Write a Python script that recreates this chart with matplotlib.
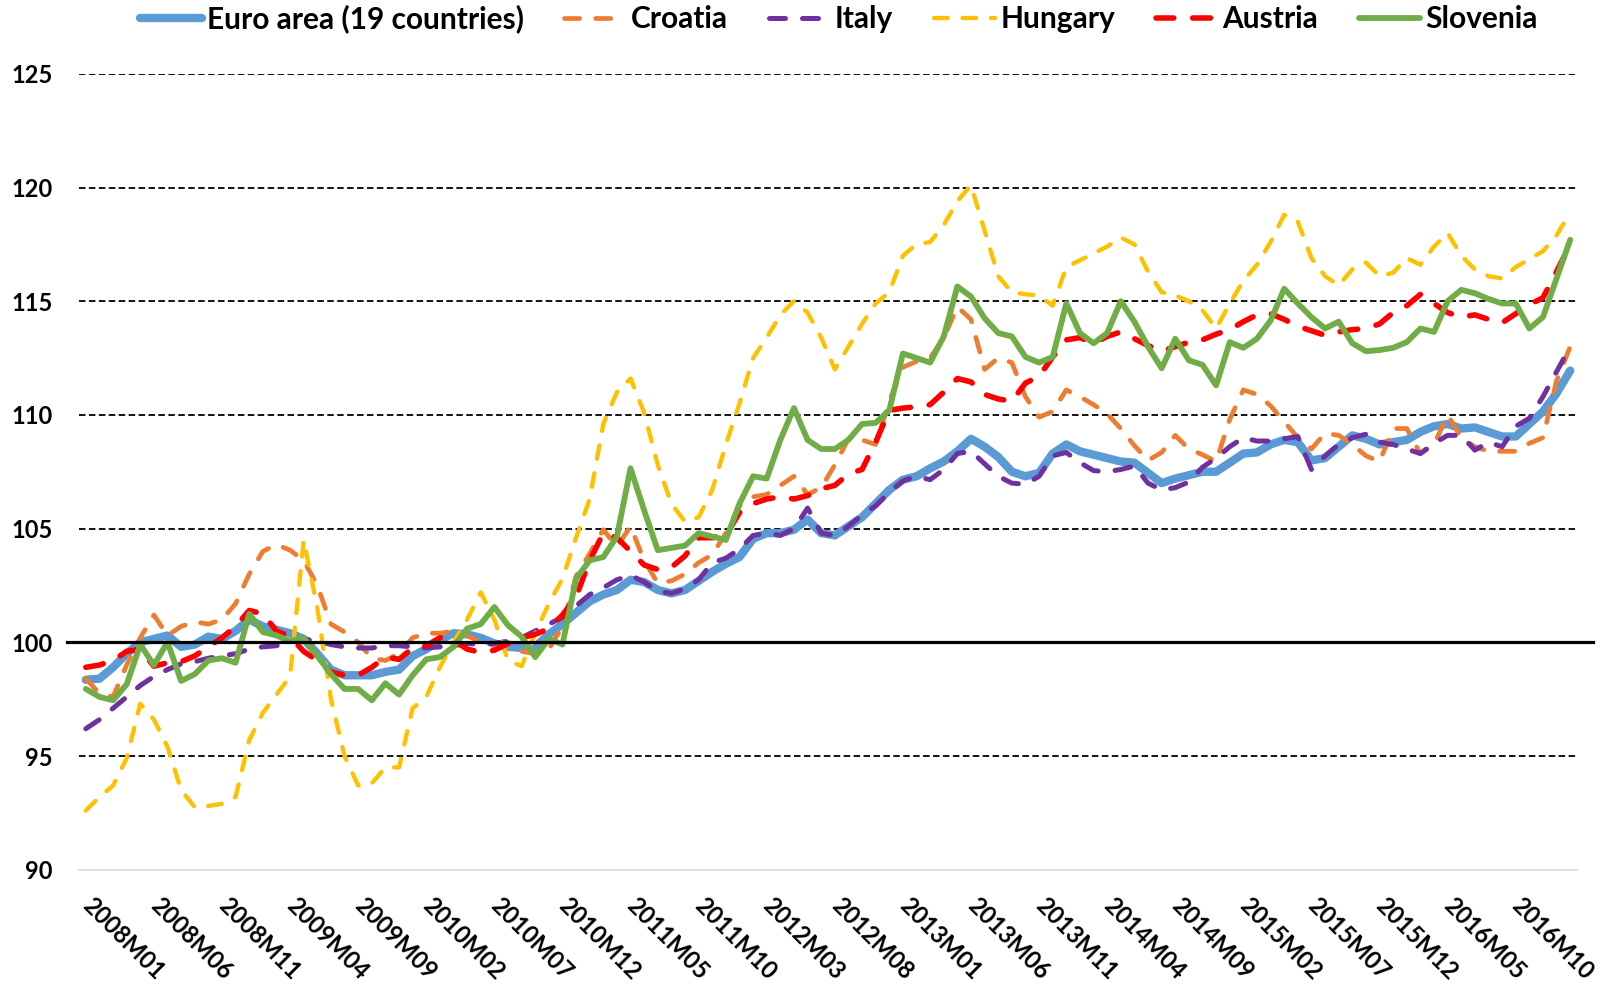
import matplotlib
matplotlib.use('Agg')
import matplotlib.pyplot as plt
import matplotlib.transforms as mtrans
from matplotlib.lines import Line2D

plt.rcParams['font.family'] = ['Lato', 'DejaVu Sans']
plt.rcParams['font.weight'] = 'bold'

months = [f"{2008 + k // 12}M{k % 12 + 1:02d}" for k in range(110)]

euro = [98.35, 98.4, 98.9, 99.5, 100.0, 100.15, 100.3, 99.8, 99.9, 100.25,
        100.15, 100.5, 101.0, 100.7, 100.55, 100.4, 100.15, 99.5, 98.8, 98.55,
        98.55, 98.55, 98.7, 98.8, 99.4, 99.7, 100.1, 100.4, 100.35, 100.2,
        99.95, 99.8, 99.75, 99.8, 100.35, 100.8, 101.3, 101.8, 102.1, 102.3,
        102.75, 102.65, 102.3, 102.15, 102.3, 102.7, 103.1, 103.45, 103.75, 104.55,
        104.8, 104.8, 104.95, 105.4, 104.8, 104.7, 105.1, 105.5, 106.1, 106.7,
        107.15, 107.3, 107.65, 107.95, 108.4, 108.95, 108.6, 108.15, 107.5, 107.3,
        107.45, 108.3, 108.7, 108.4, 108.25, 108.1, 107.95, 107.9, 107.45, 107.0,
        107.2, 107.35, 107.5, 107.5, 107.9, 108.3, 108.35, 108.7, 108.9, 108.8,
        108.0, 108.1, 108.6, 109.1, 108.95, 108.7, 108.8, 108.9, 109.25, 109.5,
        109.6, 109.4, 109.45, 109.25, 109.05, 109.05, 109.6, 110.15, 110.95, 111.95]

croatia = [98.4, 97.75, 97.6, 99.0, 100.2, 101.2, 100.3, 100.7, 100.9, 100.8,
           101.0, 101.7, 103.0, 104.0, 104.3, 104.05, 103.6, 102.5, 100.8, 100.45,
           100.0, 99.3, 99.2, 99.5, 100.2, 100.4, 100.4, 100.5, 100.3, 100.0,
           99.85, 99.7, 99.6, 99.5, 99.7, 100.7, 102.9, 103.9, 104.95, 104.2,
           105.1, 103.6, 102.6, 102.7, 103.0, 103.5, 103.85, 104.8, 106.0, 106.4,
           106.5, 106.9, 107.3, 106.5, 106.8, 107.8, 108.95, 108.9, 108.7, 110.6,
           112.1, 112.35, 112.5, 113.4, 114.75, 114.2, 112.0, 112.5, 112.3, 110.8,
           109.9, 110.15, 111.1, 110.8, 110.45, 110.05, 109.4, 108.65, 108.0, 108.35,
           109.1, 108.5, 108.25, 107.95, 109.8, 111.1, 110.9, 110.4, 109.7, 109.0,
           108.5, 109.2, 109.1, 108.7, 108.2, 107.95, 109.4, 109.4, 108.3, 108.7,
           110.0, 109.0, 108.6, 108.4, 108.4, 108.4, 108.75, 109.0, 111.5, 113.0]

italy = [96.2, 96.6, 97.1, 97.6, 98.1, 98.5, 98.8, 99.05, 99.15, 99.3,
         99.4, 99.5, 99.7, 99.8, 99.85, 100.0, 100.15, 100.05, 99.9, 99.8,
         99.75, 99.75, 99.85, 99.85, 99.8, 99.75, 99.8, 99.85, 99.95, 99.9,
         99.95, 100.05, 100.2, 100.5, 100.8, 101.1, 101.6, 102.1, 102.4, 102.75,
         102.95, 102.65, 102.25, 102.15, 102.35, 102.75, 103.5, 103.7, 104.1, 104.7,
         104.8, 104.7, 105.0, 105.9, 104.8, 104.7, 105.1, 105.6, 106.0, 106.6,
         107.1, 107.3, 107.15, 107.6, 108.3, 108.4, 107.85, 107.3, 107.0, 106.95,
         107.3, 108.2, 108.35, 107.9, 107.55, 107.5, 107.6, 107.75, 107.0, 106.7,
         106.8, 107.05, 107.7, 108.1, 108.6, 109.0, 108.85, 108.85, 108.95, 109.05,
         107.6, 108.2, 108.7, 109.0, 109.15, 108.8, 108.7, 108.5, 108.3, 108.75,
         109.1, 109.1, 108.45, 108.8, 108.6, 109.5, 109.85, 110.8, 111.9, 113.0]

hungary = [92.6, 93.2, 93.7, 94.9, 97.3, 96.6, 95.4, 93.5, 92.75, 92.8,
           92.9, 93.2, 95.7, 96.9, 97.7, 98.5, 104.5, 101.5, 97.5, 95.0,
           93.7, 93.8, 94.5, 94.5, 97.1, 97.6, 98.9, 100.0, 101.0, 102.2,
           101.0, 99.2, 98.95, 100.4, 101.7, 102.8, 104.6, 106.3, 109.6, 111.0,
           111.6, 110.1, 107.8, 106.1, 105.3, 105.5, 106.7, 108.7, 110.5, 112.5,
           113.4, 114.4, 115.0, 114.5, 113.4, 112.0, 113.0, 114.0, 114.9, 115.4,
           117.0, 117.5, 117.6, 118.35, 119.4, 120.1, 118.1, 116.1, 115.4, 115.3,
           115.25, 114.8, 116.5, 116.8, 117.1, 117.4, 117.8, 117.5, 116.3, 115.4,
           115.25, 115.0, 114.6, 113.8, 114.9, 115.9, 116.6, 117.6, 118.8, 118.5,
           116.9, 116.1, 115.7, 116.4, 116.7, 116.1, 116.25, 116.9, 116.6, 117.4,
           118.0, 117.0, 116.4, 116.1, 116.0, 116.5, 116.85, 117.2, 117.9, 118.9]

austria = [98.9, 99.0, 99.2, 99.6, 99.7, 98.95, 99.1, 99.15, 99.4, 99.8,
           100.2, 100.7, 101.4, 101.25, 100.5, 100.25, 99.6, 99.2, 98.7, 98.55,
           98.55, 98.9, 99.35, 99.25, 99.75, 99.85, 100.2, 100.1, 99.7, 99.55,
           99.65, 99.95, 100.2, 100.35, 100.6, 101.2, 102.0, 103.6, 104.8, 104.6,
           104.0, 103.4, 103.2, 103.3, 103.8, 104.6, 104.6, 104.7, 105.7, 106.1,
           106.3, 106.4, 106.3, 106.45, 106.75, 106.9, 107.4, 107.6, 108.8, 110.2,
           110.3, 110.35, 110.45, 111.0, 111.6, 111.45, 110.9, 110.7, 110.6, 111.4,
           111.7, 112.55, 113.3, 113.4, 113.15, 113.45, 113.65, 113.35, 113.05, 112.8,
           113.0, 113.2, 113.3, 113.55, 113.75, 114.1, 114.4, 114.45, 114.2, 113.9,
           113.7, 113.5, 113.65, 113.75, 113.8, 114.0, 114.5, 114.8, 115.3, 114.9,
           114.5, 114.3, 114.4, 114.2, 114.05, 114.45, 114.85, 115.15, 116.3, 117.5]

slovenia = [97.95, 97.6, 97.45, 98.15, 99.9, 99.0, 100.0, 98.3, 98.6, 99.2,
            99.3, 99.1, 101.25, 100.45, 100.3, 100.05, 100.2, 99.4, 98.6, 97.95,
            97.95, 97.45, 98.2, 97.7, 98.55, 99.25, 99.35, 99.8, 100.6, 100.8,
            101.55, 100.75, 100.25, 99.35, 100.15, 99.9, 102.8, 103.6, 103.75, 104.65,
            107.65, 105.8, 104.05, 104.15, 104.25, 104.8, 104.65, 104.5, 106.1, 107.3,
            107.2, 108.9, 110.3, 108.9, 108.5, 108.5, 108.9, 109.6, 109.65, 110.2,
            112.7, 112.5, 112.3, 113.45, 115.65, 115.2, 114.25, 113.6, 113.45, 112.55,
            112.3, 112.55, 114.9, 113.6, 113.15, 113.6, 115.0, 114.1, 113.0, 112.05,
            113.35, 112.4, 112.2, 111.3, 113.2, 112.95, 113.35, 114.15, 115.55, 114.9,
            114.3, 113.8, 114.1, 113.15, 112.8, 112.85, 112.95, 113.2, 113.8, 113.65,
            115.0, 115.5, 115.35, 115.1, 114.9, 114.9, 113.8, 114.3, 116.0, 117.7]

names = ['Euro area (19 countries)', 'Croatia', 'Italy', 'Hungary', 'Austria', 'Slovenia']
colors = ['#5B9BD5', '#ED7D31', '#7030A0', '#FFC000', '#FF0000', '#70AD47']
widths = [6.0, 3.4, 3.6, 3.1, 4.0, 4.2]
dashed = [False, True, True, True, True, False]
data = [euro, croatia, italy, hungary, austria, slovenia]
yticks = [90, 95, 100, 105, 110, 115, 120, 125]

W, H = 1606, 984
fig = plt.figure(figsize=(W / 100, H / 100), dpi=100)
ax = fig.add_axes([79 / W, 1 - 869.7 / H, 1498 / W, (869.7 - 73.8) / H])

xs = list(range(len(months)))
handles = []
for vals, name, c, lw, d in zip(data, names, colors, widths, dashed):
    if d:
        ln, = ax.plot(xs, vals, color=c, lw=lw, linestyle=(0, (3.2, 3.4)),
                      dash_capstyle='round', solid_joinstyle='round', zorder=3, label=name)
    else:
        ln, = ax.plot(xs, vals, color=c, lw=lw, solid_capstyle='round',
                      solid_joinstyle='round', zorder=3, label=name)
    handles.append(ln)

for v in [95, 105, 110, 115, 120, 125]:
    ax.axhline(v, color='black', lw=1.3, linestyle=(0, (3.6, 1.9)), zorder=1)
ax.add_line(Line2D([-0.008, 1.011], [100, 100], transform=ax.get_yaxis_transform(),
                   color='black', lw=2.3, clip_on=False, zorder=5))

ax.set_xlim(-0.5, len(months) - 0.5)
ax.set_ylim(90, 125)
for s in ['top', 'right', 'left']:
    ax.spines[s].set_visible(False)
ax.spines['bottom'].set_color('#D9D9D9')
ax.spines['bottom'].set_linewidth(1.2)

ax.set_yticks(yticks)
ax.set_yticklabels([str(t) for t in yticks], fontsize=17, fontweight='bold')
ax.set_xticks(xs[::5])
ax.set_xticklabels(months[::5], fontsize=17, fontweight='bold', rotation=-45,
                   ha='left', va='top', rotation_mode='anchor')
ax.tick_params(axis='y', length=0, pad=19)
ax.tick_params(axis='x', length=0, pad=17)
off = mtrans.ScaledTranslation(6 / 72, 0, fig.dpi_scale_trans)
for lab in ax.get_xticklabels():
    lab.set_transform(lab.get_transform() + off)

fig.legend(handles, names, loc='center', bbox_to_anchor=(839 / W, 1 - 19 / H), ncol=6,
           frameon=False, prop={'family': 'Lato', 'weight': 'bold', 'size': 21.5},
           handlelength=2.05, handletextpad=0.17, columnspacing=1.37)

fig.savefig('out.png', dpi=100)
